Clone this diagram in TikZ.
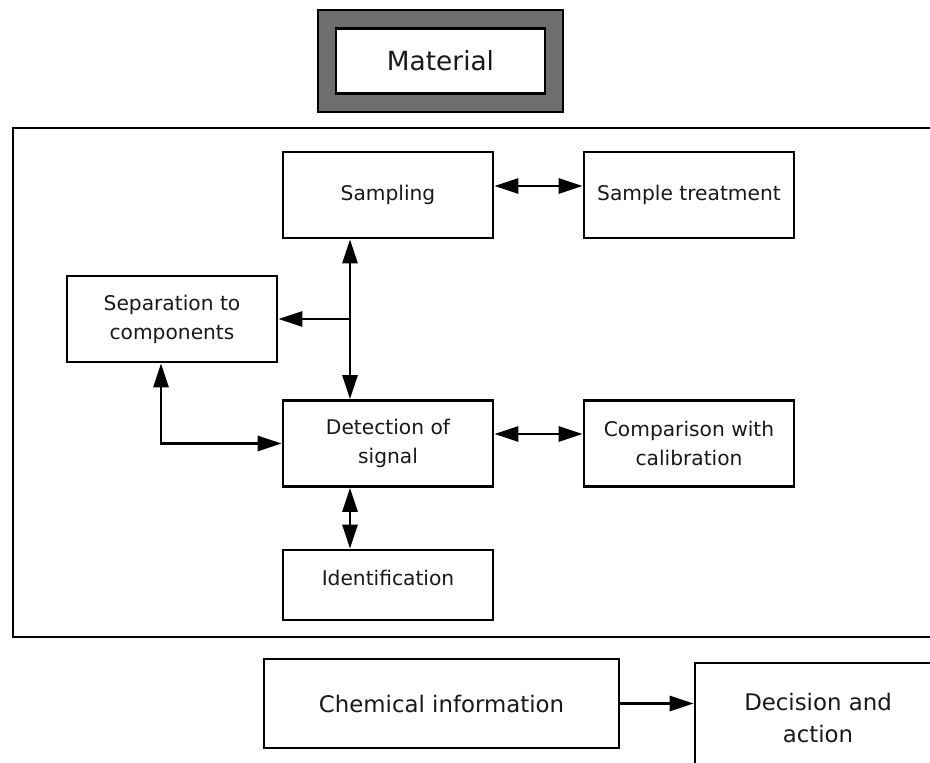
\documentclass[tikz,border=0pt]{standalone}
\usepackage{fontspec}
\setmainfont{DejaVu Sans}
\usetikzlibrary{arrows.meta,positioning,calc}

\begin{document}
\begin{tikzpicture}[
    block/.style={rectangle, draw=black, fill=white, line width=1.5pt, minimum width=4.2cm, minimum height=1.72cm, align=center, text=black!90, font=\fontsize{11.5}{16.5}\selectfont},
    bigblock/.style={block, font=\fontsize{13}{18.5}\selectfont},
    twoway/.style={{Triangle[length=0.48cm,width=0.3cm]}-{Triangle[length=0.48cm,width=0.3cm]}, line width=1.5pt},
    oneway/.style={-{Triangle[length=0.48cm,width=0.3cm]}, line width=1.5pt}
]
    \useasboundingbox (0,0) rectangle (18.6,-15.24);
    \clip (0,0) rectangle (18.6,-15.24);

    % Material on top
    \node[draw=black, fill=black!57, line width=1pt, minimum width=4.9cm, minimum height=2.04cm] (materialframe) at (8.81cm,-1.22cm) {};
    \node[block, line width=1.2pt, minimum width=4.18cm, minimum height=1.30cm, font=\fontsize{15}{18}\selectfont] (material) at (materialframe.center) {Material};

    % Analysis frame
    \draw[line width=1.4pt] (0.26,-2.56) rectangle (18.8,-12.74);

    % Analysis steps
    \node[block] (sampling) at (7.76cm,-3.90cm) {Sampling};
    \node[block] (treatment) at (13.78cm,-3.90cm) {Sample treatment};
    \node[block] (separation) at (3.44cm,-6.38cm) {Separation to\\components};
    \node[block] (detection) at (7.76cm,-8.87cm) {Detection of\\signal};
    \node[block] (comparison) at (13.78cm,-8.87cm) {Comparison with\\calibration};
    \node[block, minimum height=1.4cm, text depth=0.28cm] (identification) at (7.76cm,-11.70cm) {Identification};

    % Result
    \node[bigblock, minimum width=7.1cm, minimum height=1.78cm] (chemical) at (8.83cm,-14.07cm) {Chemical information};
    \node[bigblock, minimum width=4.92cm, minimum height=2.2cm] (decision) at (16.36cm,-14.36cm) {Decision and\\action};

    % Arrows
    \draw[twoway] ([yshift=0.18cm]sampling.east) -- ([yshift=0.18cm]treatment.west);
    \draw[twoway] ([xshift=-0.76cm]sampling.south) -- ([xshift=-0.76cm]detection.north);
    \coordinate (branch) at ([xshift=-0.76cm]sampling.south |- separation.east);
    \draw[oneway] (branch) -- (separation.east);
    \draw[twoway] ([xshift=-0.22cm]separation.south) |- (detection.west);
    \draw[twoway] ([yshift=0.19cm]detection.east) -- ([yshift=0.19cm]comparison.west);
    \draw[twoway] ([xshift=-0.76cm]detection.south) -- ([xshift=-0.76cm]identification.north);
    \draw[oneway] (chemical.east) -- (chemical.east -| decision.west);
\end{tikzpicture}
\end{document}
